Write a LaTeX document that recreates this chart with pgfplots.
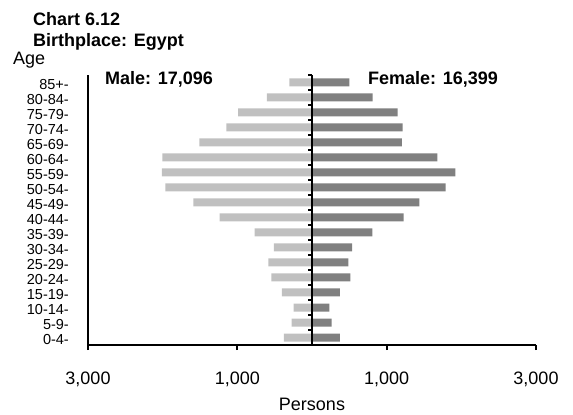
\documentclass[border=0pt]{standalone}
\usepackage{fontspec}
\setmainfont{Liberation Sans}
\usepackage{pgfplots}
\pgfplotsset{compat=1.18}
\usepackage{pgfplotstable}
\pgfplotstableread{
y male female
0 -375 375
1 -272 264
2 -245 232
3 -402 375
4 -545 513
5 -585 486
6 -509 536
7 -767 807
8 -1236 1228
9 -1589 1437
10 -1964 1790
11 -2009 1919
12 -2004 1678
13 -1509 1205
14 -1148 1214
15 -991 1148
16 -603 813
17 -304 499
}\datatable
\definecolor{malegray}{HTML}{C0C0C0}
\definecolor{femalegray}{HTML}{808080}
\begin{document}
\begin{tikzpicture}
\begin{axis}[
  scale only axis, width=448pt, height=270pt,
  at={(0pt,0pt)}, anchor=south west,
  xmin=-3000, xmax=3000, ymin=-0.5, ymax=17.5,
  axis x line*=bottom, axis y line*=left,
  axis line style={line width=2.5pt, -},
  x axis line style={-}, y axis line style={-},
  xtick={-3000,-1000,1000,3000},
  xticklabels={{3,000},{1,000},{1,000},{3,000}},
  ytick={0,...,17},
  yticklabels={0-4-,5-9-,10-14-,15-19-,20-24-,25-29-,30-34-,35-39-,40-44-,45-49-,50-54-,55-59-,60-64-,65-69-,70-74-,75-79-,80-84-,85+-},
  tick align=outside,
  xtick style={line width=2pt, black},
  major tick length=5pt,
  ytick style={draw=none},
  x tick label style={font=\fontsize{18}{20}\selectfont, yshift=-18pt},
  y tick label style={font=\fontsize{14.5}{16}\selectfont, anchor=east, inner sep=0pt, xshift=-14pt, yshift=-2pt},
  xbar, bar width=8pt, bar shift=0pt,
  xlabel={Persons},
  xlabel style={font=\fontsize{18}{20}\selectfont, yshift=-5pt},
  clip=false,
]
\addplot[fill=malegray, draw=none] table[x=male, y=y] {\datatable};
\addplot[fill=femalegray, draw=none] table[x=female, y=y] {\datatable};
\draw[line width=2pt] (axis cs:0,-0.5) -- (axis cs:0,17.5);
\pgfplotsinvokeforeach{-0.5,0.5,...,17.5}{\draw[line width=2pt] (axis cs:0,#1) -- ([xshift=-4pt]axis cs:0,#1);}
\end{axis}
\node[anchor=base west, inner sep=0pt, font=\bfseries\fontsize{18}{20}\selectfont] at (-55pt,319pt) {Chart 6.12};
\node[anchor=base west, inner sep=0pt, font=\bfseries\fontsize{18}{20}\selectfont] at (-55pt,298pt) {Birthplace: Egypt};
\node[anchor=base west, inner sep=0pt, font=\fontsize{18}{20}\selectfont] at (-75pt,280pt) {Age};
\node[anchor=base west, inner sep=0pt, font=\bfseries\fontsize{18}{20}\selectfont] at (17pt,260.5pt) {Male: 17,096};
\node[anchor=base west, inner sep=0pt, font=\bfseries\fontsize{18}{20}\selectfont] at (280pt,260.5pt) {Female: 16,399};
\pgfresetboundingbox
\path (-88pt,-70pt) rectangle (485pt,345pt);
\end{tikzpicture}
\end{document}
